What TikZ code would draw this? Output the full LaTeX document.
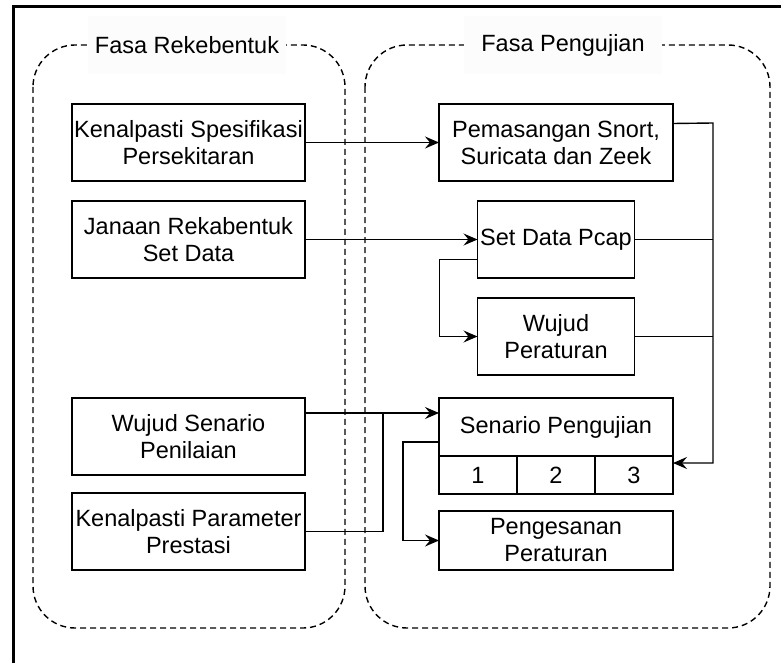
\documentclass[tikz,border=0pt]{standalone}
\usepackage{fontspec}
\setmainfont{Liberation Sans}
\usetikzlibrary{positioning, arrows.meta}

\begin{document}
\begin{tikzpicture}[
  x=1pt, y=-1pt,
  node distance=20pt,
  kotak/.style={draw, line width=1.4pt, outer sep=0pt, minimum width=233pt, minimum height=77pt,
                align=center, inner sep=1pt, font=\fontsize{23.5}{27}\selectfont},
  sempit/.style={kotak, minimum width=157pt},
  sel/.style={kotak, minimum width=78pt, minimum height=38pt},
  fasa/.style={draw, dash pattern=on 6pt off 4pt, line width=1.4pt, rounded corners=42pt},
  tajuk/.style={fill=black!1, minimum width=198pt, minimum height=58pt,
                font=\fontsize{23.5}{27}\selectfont},
  arrow/.style={-{Stealth[length=14pt, width=12pt, inset=5pt]}, line width=1.4pt},
  garis/.style={line width=1.4pt}
]
  \useasboundingbox (0,0) rectangle (781,663);
  \draw[line width=2.2pt] (13.5,663) -- (13.5,6.5) -- (781,6.5);

  % fasa
  \draw[fasa] (33,45) rectangle (345,628);
  \draw[fasa] (365,45) rectangle (770,628);
  \node[tajuk] (tRekebentuk) at (187,45) {Fasa Rekebentuk};
  \node[tajuk] (tPengujian) at (563,45) {Fasa Pengujian};

  % fasa rekebentuk
  \node[kotak] (spec) at (188.5,142.5) {Kenalpasti Spesifikasi\\Persekitaran};
  \node[kotak, below=of spec] (janaan) {Janaan Rekabentuk\\Set Data};
  \node[kotak] (senario) at (188.5,436.5) {Wujud Senario\\Penilaian};
  \node[kotak, below=18pt of senario] (param) {Kenalpasti Parameter\\Prestasi};

  % fasa pengujian
  \node[kotak, minimum width=234pt] (pasang) at (556,142.5) {Pemasangan Snort,\\Suricata dan Zeek};
  \node[sempit, below=of pasang] (pcap) {Set Data Pcap};
  \node[sempit, below=of pcap] (peraturan) {Wujud\\Peraturan};
  \node[kotak, minimum width=234pt, minimum height=58pt] (ujian) at (556,427) {Senario Pengujian};
  \node[sel, anchor=north west] (c1) at (ujian.south west) {1};
  \node[sel, right=0pt of c1] (c2) {2};
  \node[sel, right=0pt of c2] (c3) {3};
  \node[kotak, minimum width=234pt, minimum height=59pt, below=17pt of c2] (kesan) {Pengesanan\\Peraturan};

  \coordinate (bus) at (713,123);
  \coordinate (join) at (383,413);

  \draw[arrow] (spec) -- (pasang);
  \draw[arrow] (janaan) -- (pcap);
  \draw[arrow] ([yshift=19pt]pasang.east) -- (bus) |- ([yshift=12pt]c3.east);
  \draw[garis] (pcap.east) -- (pcap.east -| bus);
  \draw[garis] (peraturan.east) -- (peraturan.east -| bus);
  \draw[arrow] ([yshift=-20pt]pcap.west) -- ++(-38,0) |- (peraturan.west);
  \draw[garis] ([yshift=23.5pt]senario.east) -- (join);
  \draw[garis] (param.east) -| (join);
  \draw[arrow] (join) -- (join -| ujian.west);
  \draw[arrow] ([yshift=-15pt]ujian.west) -- ++(-36,0) |- (kesan.west);
\end{tikzpicture}
\end{document}
